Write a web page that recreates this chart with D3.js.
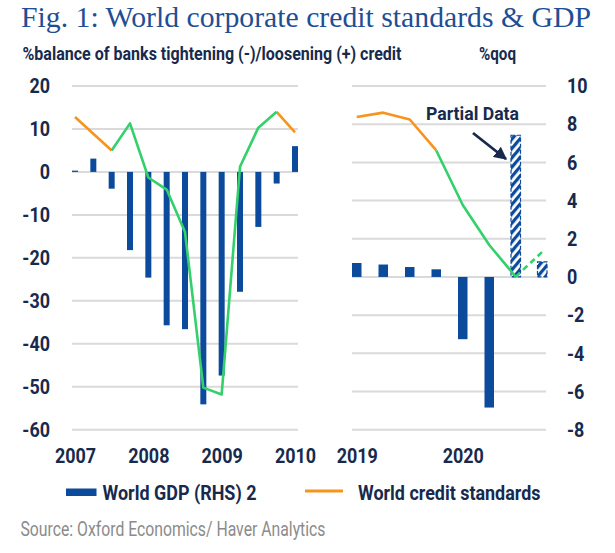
<!DOCTYPE html>
<html>
<head>
<meta charset="utf-8">
<script src="https://cdn.jsdelivr.net/npm/d3@7"></script>
<style>
  html, body { margin: 0; padding: 0; background: #ffffff; }
  svg { display: block; }
</style>
</head>
<body>
<svg id="chart" width="615" height="553"></svg>
<script>
// ---------------- DATA ----------------
const leftQuarters = ["2007Q1","2007Q2","2007Q3","2007Q4","2008Q1","2008Q2","2008Q3","2008Q4","2009Q1","2009Q2","2009Q3","2009Q4","2010Q1"];
const leftBars = [0.3, 3.1, -3.9, -18.2, -24.6, -35.7, -36.6, -54.1, -47.4, -27.9, -12.8, -2.7, 6.0];
const leftCreditOrange = [12.8, 8.9, 5.0, null, null, null, null, null, null, null, null, 14.0, 9.2];
const leftCreditGreen  = [null, null, 5.0, 11.3, -1.3, -4.1, -14.0, -50.2, -51.8, 1.2, 10.3, 14.0, null];
const leftYearTicks = ["2007Q1","2008Q1","2009Q1","2010Q1"];
const leftYearLabels = ["2007","2008","2009","2010"];
const leftAxisTicks = [20, 10, 0, -10, -20, -30, -40, -50, -60];

const rightQuarters = ["2019Q1","2019Q2","2019Q3","2019Q4","2020Q1","2020Q2","2020Q3","2020Q4"];
const rightGDP = [0.73, 0.65, 0.52, 0.40, -3.26, -6.84, 7.42, 0.79];
const rightPartial = [false, false, false, false, false, false, true, true];
const rightCreditOrange = [12.8, 13.8, 12.2, 5.0, null, null, null, null];
const rightCreditGreen  = [null, null, null, 5.0, -7.7, -17.0, -24.4, null];
const rightCreditDashed = [null, null, null, null, null, null, -24.4, -18.6];
const rightYearTicks = ["2019Q1","2020Q1"];
const rightYearLabels = ["2019","2020"];
const rightAxisTicks = [10, 8, 6, 4, 2, 0, -2, -4, -6, -8];

const titleText = "Fig. 1: World corporate credit standards & GDP";
const leftUnitText = "%balance of banks tightening (-)/loosening (+) credit";
const rightUnitText = "%qoq";
const partialLabel = "Partial Data";
const legendItems = ["World GDP (RHS) 2", "World credit standards"];
const sourceText = "Source: Oxford Economics/ Haver Analytics";

// ---------------- STYLE ----------------
const BLUE = "#0c4a9b";
const ORANGE = "#f7941d";
const GREEN = "#34d06c";
const NAVY = "#172a4e";
const GRID = "#dadada";
const GREY = "#8b8b8b";
const COND = "Roboto, 'Liberation Sans', sans-serif";
const SERIF = "'Liberation Serif', 'DejaVu Serif', serif";
const FS = 21;

const svg = d3.select("#chart");

// squeeze text to an exact width (keeps it as real text)
function fitWidth(sel, w) {
  sel.attr("textLength", w).attr("lengthAdjust", "spacingAndGlyphs");
  return sel;
}
// condensed factor, measured from the legend label (~154px wide in the reference)
const probe = svg.append("text").attr("font-family", COND).attr("font-weight", "bold")
  .attr("font-size", FS).text(legendItems[0]);
const K = 154 / probe.node().getComputedTextLength();
probe.remove();
function condense(sel) {
  sel.each(function () {
    const w = this.getComputedTextLength();
    d3.select(this).attr("textLength", w * K).attr("lengthAdjust", "spacingAndGlyphs");
  });
  return sel;
}

// ---------------- SCALES ----------------
const yTop = 86, yBot = 429.7;
const yL = d3.scaleLinear().domain([-60, 20]).range([yBot, yTop]);
const yR = d3.scaleLinear().domain([-8, 10]).range([yBot, yTop]);

const xL = d3.scaleBand().domain(leftQuarters).range([72, 298]).paddingInner(0.673).paddingOuter(0);
const xR = d3.scaleBand().domain(rightQuarters).range([352, 547]).paddingInner(0.6415).paddingOuter(0);
const cL = q => xL(q) + xL.bandwidth() / 2;
const cR = q => xR(q) + xR.bandwidth() / 2;

// ---------------- TITLE & UNITS ----------------
const title = svg.append("text").attr("x", 21).attr("y", 27)
  .attr("font-family", SERIF).attr("font-size", 29).attr("fill", "#1f4e95")
  .text(titleText);
fitWidth(title, 570);

const sub = svg.append("text").attr("x", 22.5).attr("y", 60)
  .attr("font-family", COND).attr("font-weight", "bold").attr("font-size", 18.5)
  .attr("fill", NAVY).text(leftUnitText);
fitWidth(sub, 379);
const unitR = svg.append("text").attr("x", 479).attr("y", 60)
  .attr("font-family", COND).attr("font-weight", "bold").attr("font-size", 18.5)
  .attr("fill", NAVY).text(rightUnitText);
fitWidth(unitR, 37);

// ---------------- GRIDLINES ----------------
svg.append("g").selectAll("line").data(leftAxisTicks).join("line")
  .attr("x1", 72).attr("x2", 298)
  .attr("y1", d => yL(d)).attr("y2", d => yL(d))
  .attr("stroke", GRID).attr("stroke-width", 2);
svg.append("g").selectAll("line").data(rightAxisTicks).join("line")
  .attr("x1", 352).attr("x2", 546)
  .attr("y1", d => yR(d)).attr("y2", d => yR(d))
  .attr("stroke", GRID).attr("stroke-width", 2);

// ---------------- AXES ----------------
const hyphenFmt = d => d < 0 ? "-" + Math.abs(d) : String(d);
function styleAxis(g) {
  g.select(".domain").remove();
  g.selectAll(".tick line").remove();
  g.selectAll("text").attr("font-family", COND).attr("font-weight", "bold")
    .attr("font-size", FS).attr("fill", NAVY).call(condense);
}
svg.append("g").attr("transform", "translate(72,0)")
  .call(d3.axisLeft(yL).tickValues(leftAxisTicks).tickSize(0).tickPadding(22).tickFormat(hyphenFmt))
  .call(styleAxis);
svg.append("g").attr("transform", "translate(546,0)")
  .call(d3.axisRight(yR).tickValues(rightAxisTicks).tickSize(0).tickPadding(21).tickFormat(hyphenFmt))
  .call(styleAxis);

const xAxisL = d3.axisBottom(d3.scalePoint().domain(leftYearTicks).range([cL(leftYearTicks[0]), cL(leftYearTicks[3])]))
  .tickSize(0).tickPadding(18.5).tickFormat((d, i) => leftYearLabels[i]);
svg.append("g").attr("transform", `translate(0,${yBot})`).call(xAxisL).call(styleAxis);
const xAxisR = d3.axisBottom(d3.scalePoint().domain(rightYearTicks).range([cR(rightYearTicks[0]), cR(rightYearTicks[1])]))
  .tickSize(0).tickPadding(18.5).tickFormat((d, i) => rightYearLabels[i]);
svg.append("g").attr("transform", `translate(0,${yBot})`).call(xAxisR).call(styleAxis);

// ---------------- PATTERN ----------------
const defs = svg.append("defs");
const pat = defs.append("pattern").attr("id", "hatch").attr("patternUnits", "userSpaceOnUse")
  .attr("width", 6).attr("height", 6).attr("patternTransform", "rotate(40)");
pat.append("rect").attr("width", 6).attr("height", 6).attr("fill", "#ffffff");
pat.append("rect").attr("width", 3.2).attr("height", 6).attr("fill", BLUE);

// ---------------- BARS ----------------
svg.append("g").selectAll("rect").data(leftQuarters).join("rect")
  .attr("x", d => xL(d)).attr("width", xL.bandwidth())
  .attr("y", (d, i) => yL(Math.max(0, leftBars[i])))
  .attr("height", (d, i) => Math.abs(yL(leftBars[i]) - yL(0)))
  .attr("fill", BLUE);

svg.append("g").selectAll("rect").data(rightQuarters).join("rect")
  .attr("x", d => xR(d)).attr("width", xR.bandwidth())
  .attr("y", (d, i) => yR(Math.max(0, rightGDP[i])))
  .attr("height", (d, i) => Math.abs(yR(rightGDP[i]) - yR(0)))
  .attr("fill", (d, i) => rightPartial[i] ? "url(#hatch)" : BLUE)
  .attr("stroke", (d, i) => rightPartial[i] ? BLUE : "none")
  .attr("stroke-width", 1.2)
  .attr("stroke-dasharray", "4,2");

// ---------------- LINES ----------------
function drawLine(qs, vals, xf, color, dash) {
  const line = d3.line().defined(d => d[1] !== null).x(d => xf(d[0])).y(d => yL(d[1]));
  svg.append("path").datum(qs.map((q, i) => [q, vals[i]]))
    .attr("d", line).attr("fill", "none").attr("stroke", color)
    .attr("stroke-width", 2.6).attr("stroke-linejoin", "round")
    .attr("stroke-dasharray", dash || null);
}
drawLine(leftQuarters, leftCreditOrange, cL, ORANGE);
drawLine(leftQuarters, leftCreditGreen, cL, GREEN);
drawLine(rightQuarters, rightCreditOrange, cR, ORANGE);
drawLine(rightQuarters, rightCreditGreen, cR, GREEN);
drawLine(rightQuarters, rightCreditDashed, cR, GREEN, "6,4");

// ---------------- ANNOTATION ----------------
const pt = svg.append("text").attr("x", 426).attr("y", 120)
  .attr("font-family", COND).attr("font-weight", "bold").attr("font-size", 18)
  .attr("fill", NAVY).text(partialLabel);
fitWidth(pt, 93);

defs.append("marker").attr("id", "arrowHead").attr("viewBox", "0 0 10 10")
  .attr("refX", 9).attr("refY", 5).attr("markerWidth", 4.6).attr("markerHeight", 4.6)
  .attr("markerUnits", "strokeWidth").attr("orient", "auto")
  .append("path").attr("d", "M0,0 L10,5 L0,10 Z").attr("fill", NAVY);
const barTopX = xR(rightQuarters[6]);
svg.append("line").attr("x1", 473).attr("y1", 133)
  .attr("x2", barTopX - 5).attr("y2", 159)
  .attr("stroke", NAVY).attr("stroke-width", 2.8).attr("marker-end", "url(#arrowHead)");

// ---------------- LEGEND ----------------
svg.append("rect").attr("x", 66).attr("y", 488.5).attr("width", 30.5).attr("height", 7.5).attr("fill", BLUE);
const l1 = svg.append("text").attr("x", 102.5).attr("y", 500)
  .attr("font-family", COND).attr("font-weight", "bold").attr("font-size", FS)
  .attr("fill", NAVY).text(legendItems[0]);
fitWidth(l1, 154);
svg.append("line").attr("x1", 305).attr("x2", 343).attr("y1", 491).attr("y2", 491)
  .attr("stroke", ORANGE).attr("stroke-width", 2.8);
const l2 = svg.append("text").attr("x", 358).attr("y", 500)
  .attr("font-family", COND).attr("font-weight", "bold").attr("font-size", FS)
  .attr("fill", NAVY).text(legendItems[1]);
fitWidth(l2, 182.5);

// ---------------- SOURCE ----------------
const src = svg.append("text").attr("x", 20.5).attr("y", 536)
  .attr("font-family", COND).attr("font-size", 20)
  .attr("fill", GREY).text(sourceText);
fitWidth(src, 305);
</script>
</body>
</html>
